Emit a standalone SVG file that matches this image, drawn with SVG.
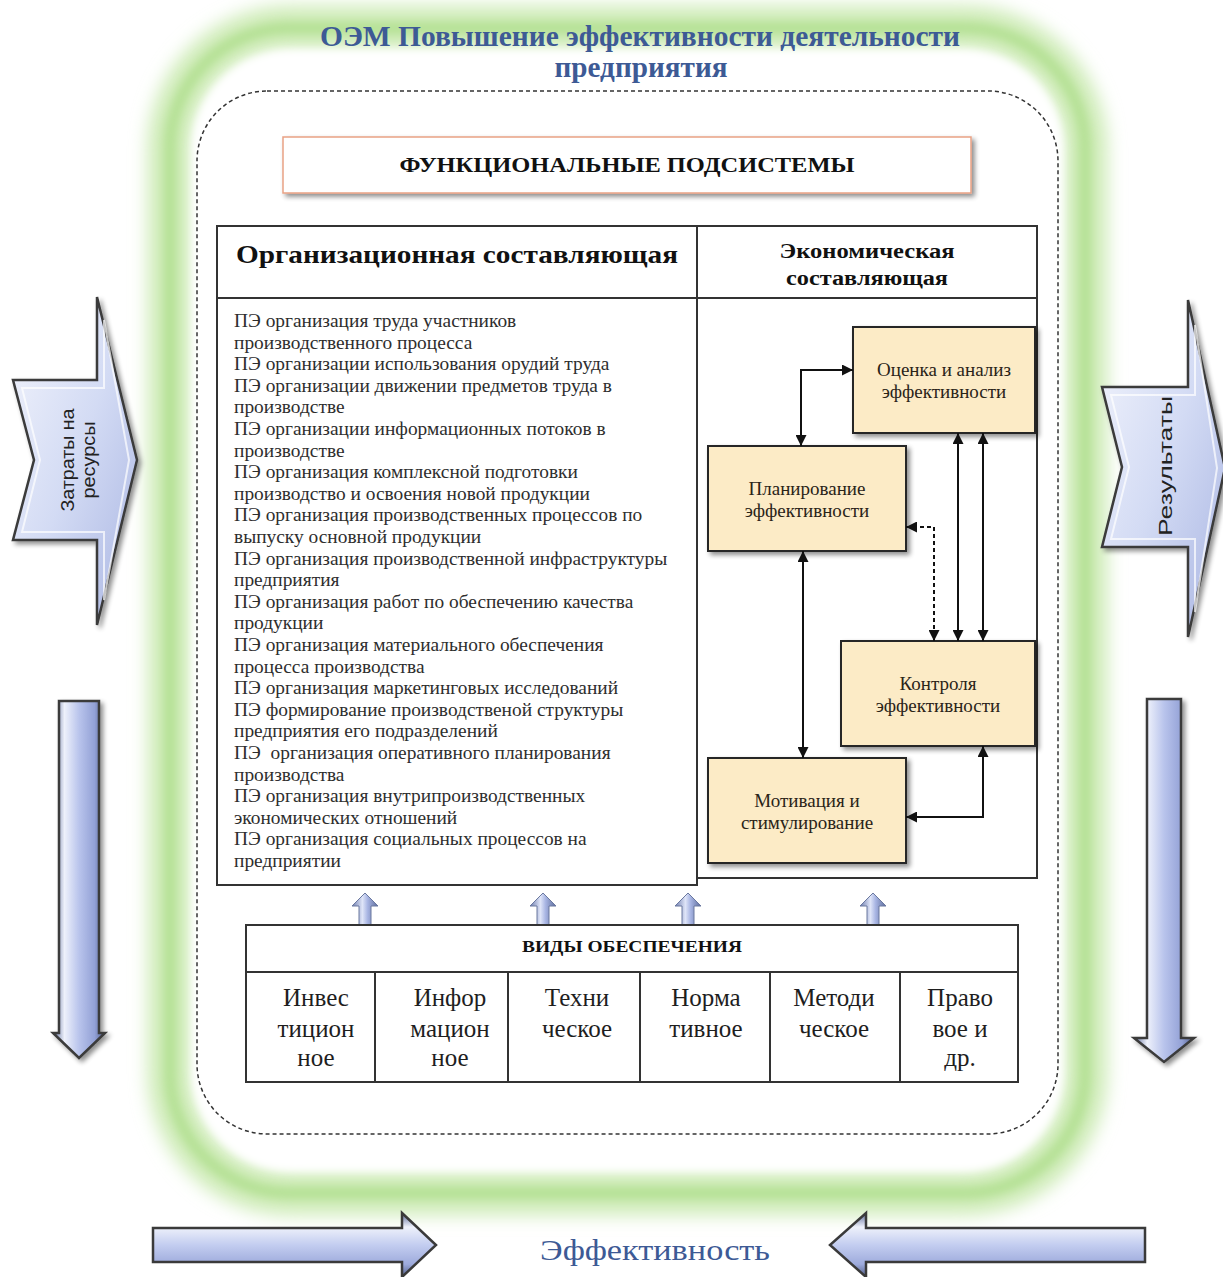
<svg xmlns="http://www.w3.org/2000/svg" width="1223" height="1277" viewBox="0 0 1223 1277">
<defs>
<style>
.serif{font-family:"Liberation Serif","Times New Roman",serif;}
.sans{font-family:"Liberation Sans",Arial,sans-serif;}
.title{font-weight:bold;fill:#3d5a95;font-size:30px;}
.list{font-size:19.4px;fill:#2e2e2e;}
.boxtxt{font-size:19px;fill:#2a2418;text-anchor:middle;}
.cell{font-size:25px;fill:#1e1e1e;text-anchor:middle;}
.hdr{font-weight:bold;fill:#111;text-anchor:middle;}
.ebox{fill:#fcebc6;stroke:#262626;stroke-width:2;}
.tbl{fill:#fff;stroke:#333;stroke-width:2;}
.conn{fill:none;stroke:#111;stroke-width:2;}
.big{stroke:#3a3a3a;stroke-width:2.5;stroke-linejoin:miter;}
</style>
<filter id="glow" x="-10%" y="-10%" width="120%" height="120%"><feGaussianBlur stdDeviation="9"/></filter>
<filter id="glow2" x="-10%" y="-10%" width="120%" height="120%"><feGaussianBlur stdDeviation="4"/></filter>
<filter id="shadow" x="-10%" y="-10%" width="130%" height="130%">
<feGaussianBlur in="SourceAlpha" stdDeviation="2.5"/><feOffset dx="3" dy="3" result="b"/>
<feComponentTransfer><feFuncA type="linear" slope="0.45"/></feComponentTransfer>
<feMerge><feMergeNode/><feMergeNode in="SourceGraphic"/></feMerge>
</filter>
<linearGradient id="gV" x1="0" y1="0" x2="1" y2="0">
<stop offset="0" stop-color="#5b6a98"/><stop offset="0.22" stop-color="#eef1fb"/><stop offset="0.5" stop-color="#b9c4ec"/><stop offset="0.8" stop-color="#93a1d6"/><stop offset="1" stop-color="#505d88"/>
</linearGradient>
<linearGradient id="gH" x1="0" y1="0" x2="0" y2="1">
<stop offset="0" stop-color="#5b6a98"/><stop offset="0.22" stop-color="#eef1fb"/><stop offset="0.5" stop-color="#c3cdf0"/><stop offset="0.8" stop-color="#9eabdc"/><stop offset="1" stop-color="#505d88"/>
</linearGradient>
<linearGradient id="gC" x1="0" y1="0" x2="1" y2="1">
<stop offset="0" stop-color="#f2f4fc"/><stop offset="0.5" stop-color="#d3dbf4"/><stop offset="1" stop-color="#a9b5e2"/>
</linearGradient>
<linearGradient id="gUp" x1="0" y1="0" x2="1" y2="0">
<stop offset="0" stop-color="#6d7cae"/><stop offset="0.4" stop-color="#dfe5f8"/><stop offset="0.6" stop-color="#a8b5e3"/><stop offset="1" stop-color="#5d6c9c"/>
</linearGradient>
<marker id="ah" viewBox="0 0 10 10" refX="10" refY="5" markerWidth="11" markerHeight="11" markerUnits="userSpaceOnUse" orient="auto-start-reverse">
<path d="M0,0 L10,5 L0,10 Z" fill="#111"/>
</marker>
</defs>

<rect width="1223" height="1277" fill="#fff"/>

<g id="frame">
<rect x="170" y="28" width="915" height="1165" rx="120" fill="none" stroke="#cdebb6" stroke-width="44" filter="url(#glow)"/>
<rect x="170" y="28" width="915" height="1165" rx="120" fill="none" stroke="#b6e196" stroke-width="12" filter="url(#glow2)"/>
<rect x="192" y="50" width="871" height="1121" rx="100" fill="#fff" filter="url(#glow2)"/>
<rect x="197" y="91" width="861" height="1043" rx="70" fill="none" stroke="#333" stroke-width="1.5" stroke-dasharray="4 3"/>
</g>

<g id="title" class="serif">
<text class="title" x="640" y="46" text-anchor="middle" textLength="640" lengthAdjust="spacingAndGlyphs">ОЭМ Повышение эффективности деятельности</text>
<text class="title" x="641" y="77" text-anchor="middle" textLength="173" lengthAdjust="spacingAndGlyphs">предприятия</text>
</g>

<g id="func-subsystems">
<rect x="283" y="137" width="688" height="56" fill="#fff" stroke="#e9a285" stroke-width="1.5" filter="url(#shadow)"/>
<text class="serif hdr" x="627" y="172" font-size="20" textLength="455" lengthAdjust="spacingAndGlyphs">ФУНКЦИОНАЛЬНЫЕ ПОДСИСТЕМЫ</text>
</g>

<g id="org-component">
<rect class="tbl" x="217" y="226" width="480" height="659"/>
<line x1="217" y1="298" x2="697" y2="298" stroke="#333" stroke-width="2"/>
<text class="serif hdr" x="457" y="263" font-size="26" textLength="442" lengthAdjust="spacingAndGlyphs">Организационная составляющая</text>
<text class="serif list" x="234" y="327">
<tspan x="234" dy="0">ПЭ организация труда участников</tspan>
<tspan x="234" dy="21.6">производственного процесса</tspan>
<tspan x="234" dy="21.6">ПЭ организации использования орудий труда</tspan>
<tspan x="234" dy="21.6">ПЭ организации движении предметов труда в</tspan>
<tspan x="234" dy="21.6">производстве</tspan>
<tspan x="234" dy="21.6">ПЭ организации информационных потоков в</tspan>
<tspan x="234" dy="21.6">производстве</tspan>
<tspan x="234" dy="21.6">ПЭ организация комплексной подготовки</tspan>
<tspan x="234" dy="21.6">производство и освоения новой продукции</tspan>
<tspan x="234" dy="21.6">ПЭ организация производственных процессов по</tspan>
<tspan x="234" dy="21.6">выпуску основной продукции</tspan>
<tspan x="234" dy="21.6">ПЭ организация производственной инфраструктуры</tspan>
<tspan x="234" dy="21.6">предприятия</tspan>
<tspan x="234" dy="21.6">ПЭ организация работ по обеспечению качества</tspan>
<tspan x="234" dy="21.6">продукции</tspan>
<tspan x="234" dy="21.6">ПЭ организация материального обеспечения</tspan>
<tspan x="234" dy="21.6">процесса производства</tspan>
<tspan x="234" dy="21.6">ПЭ организация маркетинговых исследований</tspan>
<tspan x="234" dy="21.6">ПЭ формирование производственой структуры</tspan>
<tspan x="234" dy="21.6">предприятия его подразделений</tspan>
<tspan x="234" dy="21.6" xml:space="preserve">ПЭ  организация оперативного планирования</tspan>
<tspan x="234" dy="21.6">производства</tspan>
<tspan x="234" dy="21.6">ПЭ организация внутрипроизводственных</tspan>
<tspan x="234" dy="21.6">экономических отношений</tspan>
<tspan x="234" dy="21.6">ПЭ организация социальных процессов на</tspan>
<tspan x="234" dy="21.6">предприятии</tspan>
</text>
</g>

<g id="econ-component">
<rect class="tbl" x="697" y="226" width="340" height="652"/>
<line x1="697" y1="298" x2="1037" y2="298" stroke="#333" stroke-width="2"/>
<text class="serif hdr" x="867" y="258" font-size="20" textLength="175" lengthAdjust="spacingAndGlyphs">Экономическая</text>
<text class="serif hdr" x="867" y="285" font-size="20" textLength="162" lengthAdjust="spacingAndGlyphs">составляющая</text>
</g>

<g id="node-ocenka">
<rect class="ebox" x="853" y="327" width="182" height="106" filter="url(#shadow)"/>
<text class="serif boxtxt" x="944" y="376">Оценка и анализ</text>
<text class="serif boxtxt" x="944" y="398">эффективности</text>
</g>
<g id="node-planirovanie">
<rect class="ebox" x="708" y="446" width="198" height="105" filter="url(#shadow)"/>
<text class="serif boxtxt" x="807" y="495">Планирование</text>
<text class="serif boxtxt" x="807" y="517">эффективности</text>
</g>
<g id="node-kontrol">
<rect class="ebox" x="841" y="641" width="194" height="105" filter="url(#shadow)"/>
<text class="serif boxtxt" x="938" y="690">Контроля</text>
<text class="serif boxtxt" x="938" y="712">эффективности</text>
</g>
<g id="node-motivaciya">
<rect class="ebox" x="708" y="758" width="198" height="105" filter="url(#shadow)"/>
<text class="serif boxtxt" x="807" y="807">Мотивация и</text>
<text class="serif boxtxt" x="807" y="829">стимулирование</text>
</g>

<g id="connectors">
<path class="conn" d="M801,446 V370 H853" marker-start="url(#ah)" marker-end="url(#ah)"/>
<path class="conn" d="M958,433 V641" marker-start="url(#ah)" marker-end="url(#ah)"/>
<path class="conn" d="M983,433 V641" marker-start="url(#ah)" marker-end="url(#ah)"/>
<path class="conn" d="M906,527 H934 V641" stroke-dasharray="4 3" marker-start="url(#ah)" marker-end="url(#ah)"/>
<path class="conn" d="M803,551 V758" marker-start="url(#ah)" marker-end="url(#ah)"/>
<path class="conn" d="M983,746 V817 H906" marker-start="url(#ah)" marker-end="url(#ah)"/>
</g>

<g id="supply-arrows">
<path d="M365,893 L378,906 H371 V925 H359 V906 H352 Z" fill="url(#gUp)" stroke="#6a789f" stroke-width="1"/>
<path d="M543,893 L556,906 H549 V925 H537 V906 H530 Z" fill="url(#gUp)" stroke="#6a789f" stroke-width="1"/>
<path d="M688,893 L701,906 H694 V925 H682 V906 H675 Z" fill="url(#gUp)" stroke="#6a789f" stroke-width="1"/>
<path d="M873,893 L886,906 H879 V925 H867 V906 H860 Z" fill="url(#gUp)" stroke="#6a789f" stroke-width="1"/>
</g>

<g id="supply-types">
<rect class="tbl" x="246" y="925" width="772" height="157"/>
<line x1="246" y1="972" x2="1018" y2="972" stroke="#333" stroke-width="2"/>
<g stroke="#333" stroke-width="2">
<line x1="375" y1="972" x2="375" y2="1082"/>
<line x1="508" y1="972" x2="508" y2="1082"/>
<line x1="640" y1="972" x2="640" y2="1082"/>
<line x1="770" y1="972" x2="770" y2="1082"/>
<line x1="900" y1="972" x2="900" y2="1082"/>
</g>
<text class="serif hdr" x="632" y="952" font-size="16" textLength="220" lengthAdjust="spacingAndGlyphs">ВИДЫ ОБЕСПЕЧЕНИЯ</text>
<g class="serif cell">
<text x="316" y="1006">Инвес</text><text x="316" y="1037">тицион</text><text x="316" y="1066">ное</text>
<text x="450" y="1006">Инфор</text><text x="450" y="1037">мацион</text><text x="450" y="1066">ное</text>
<text x="577" y="1006">Техни</text><text x="577" y="1037">ческое</text>
<text x="706" y="1006">Норма</text><text x="706" y="1037">тивное</text>
<text x="834" y="1006">Методи</text><text x="834" y="1037">ческое</text>
<text x="960" y="1006">Право</text><text x="960" y="1037">вое и</text><text x="960" y="1066">др.</text>
</g>
</g>

<g id="arrow-zatraty">
<path class="big" d="M13,380 H97 V297 L137,460 L97,625 V540 H13 L34,460 Z" fill="url(#gC)" filter="url(#shadow)"/>
<path d="M22,388 H104 L104,320 L129,460 L104,600 V532 H22 L40,460 Z" fill="none" stroke="#ffffff" stroke-width="2" opacity="0.7"/>
<text class="sans" transform="translate(74,460) rotate(-90)" text-anchor="middle" font-size="18" fill="#222" textLength="103" lengthAdjust="spacingAndGlyphs">Затраты на</text>
<text class="sans" transform="translate(95,460) rotate(-90)" text-anchor="middle" font-size="18" fill="#222" textLength="77" lengthAdjust="spacingAndGlyphs">ресурсы</text>
</g>

<g id="arrow-rezultaty">
<path class="big" d="M1102,387 H1188 V300 L1225,468 L1188,637 V547 H1102 L1122,467 Z" fill="url(#gC)" filter="url(#shadow)"/>
<path d="M1111,395 H1195 V325 L1217,468 L1195,612 V539 H1111 L1129,467 Z" fill="none" stroke="#ffffff" stroke-width="2" opacity="0.7"/>
<text class="sans" transform="translate(1172,466) rotate(-90)" text-anchor="middle" font-size="18" fill="#222" textLength="140" lengthAdjust="spacingAndGlyphs">Результаты</text>
</g>

<g id="arrow-left-down">
<path class="big" d="M59,701 H99 V1033 H105 L79,1058 L53,1033 H59 Z" fill="url(#gV)" stroke-width="2" filter="url(#shadow)"/>
</g>
<g id="arrow-right-down">
<path class="big" d="M1147,699 H1181 V1038 H1194 L1164,1062 L1134,1038 H1147 Z" fill="url(#gV)" stroke-width="2" filter="url(#shadow)"/>
</g>

<g id="arrow-bottom-left">
<path class="big" d="M153,1228 H402 V1213 L436,1245 L402,1277 V1262 H153 Z" fill="url(#gH)" stroke-width="2"/>
</g>
<g id="arrow-bottom-right">
<path class="big" d="M1145,1228 H866 V1213 L830,1245 L866,1277 V1262 H1145 Z" fill="url(#gH)" stroke-width="2"/>
</g>

<g id="effektivnost">
<text class="serif" x="655" y="1260" text-anchor="middle" font-size="30" fill="#3d5a95" textLength="230" lengthAdjust="spacingAndGlyphs">Эффективность</text>
</g>
</svg>
